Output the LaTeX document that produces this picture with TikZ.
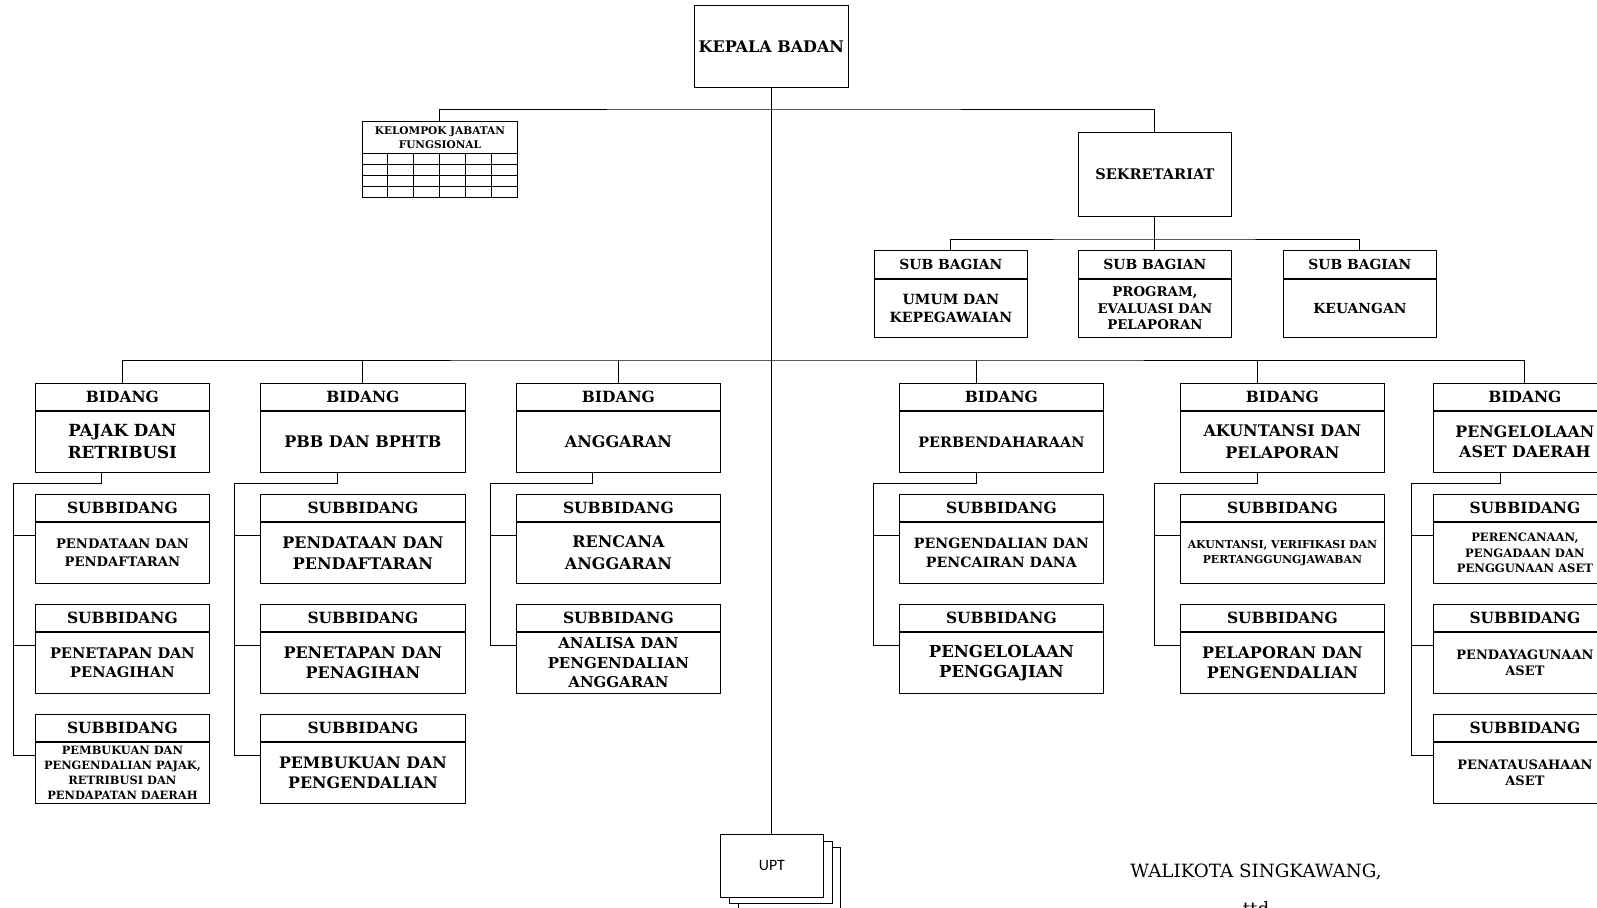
\documentclass[tikz,border=0pt]{standalone}
\usepackage{fontspec}
\setmainfont{DejaVu Serif}
\newfontfamily\uptfont{Carlito}
\usetikzlibrary{positioning}
\newcommand{\bfz}[2]{\fontsize{#1}{#2}\selectfont\bfseries}

\begin{document}
\begin{tikzpicture}[x=0.02cm, y=-0.02cm, line width=0.5pt,
  box/.style={draw, inner sep=1pt, align=center},
  hd/.style={box, anchor=north west, minimum width=#1, minimum height=0.54cm, font=\bfz{8.8}{11}},
  bd/.style={box, minimum width=#1, minimum height=1.22cm},
  sbh/.style={box, anchor=north west, minimum width=3.06cm, minimum height=0.56cm, font=\bfz{7.9}{10}},
  sbb/.style={box, minimum width=3.06cm, minimum height=1.16cm, font=\bfz{8}{10.5}}]
\useasboundingbox (0,0) rectangle (1597,908);
\clip (0,0) rectangle (1597,908);

% pimpinan
\node[box, anchor=north west, minimum width=3.08cm, minimum height=1.64cm, font=\bfz{9.1}{11}] (kb) at (694,5) {KEPALA BADAN};
\node[box, anchor=north west, minimum width=3.1cm, minimum height=0.64cm, font=\bfz{6}{7.8}] (kjf) at (362,121) {KELOMPOK JABATAN\\FUNGSIONAL};
\draw[shift={(kjf.south west)}, xstep=0.5166cm, ystep=0.22cm] (0,0) grid (3.1cm,-0.88cm) (0,0) rectangle (3.1cm,-0.88cm);
\node[box, anchor=north west, minimum width=3.06cm, minimum height=1.68cm, font=\bfz{8.3}{10}] (sek) at (1078,132) {SEKRETARIAT};
\coordinate (bus1) at (771,109);
\draw (kjf.north) |- (bus1) -| (sek.north);

% sekretariat
\node[sbh] (sb1h) at (874,250) {SUB BAGIAN};
\node[sbb, below=0pt of sb1h] (sb1b) {UMUM DAN\\KEPEGAWAIAN};
\node[sbh] (sb2h) at (1078,250) {SUB BAGIAN};
\node[sbb, below=0pt of sb2h, font=\bfz{7.6}{9.5}] (sb2b) {PROGRAM,\\EVALUASI DAN\\PELAPORAN};
\node[sbh] (sb3h) at (1283,250) {SUB BAGIAN};
\node[sbb, below=0pt of sb3h, font=\bfz{7.9}{10}] (sb3b) {KEUANGAN};
\coordinate (bus3) at (1154,239);
\draw (sek.south) -- (sb2h.north);
\draw (sb1h.north) |- (bus3) -| (sb3h.north);

% bidang
\node[hd=3.48cm] (b1h) at (35,383) {BIDANG};
\node[bd=3.48cm, below=0pt of b1h, font=\bfz{9.5}{12.6}] (b1b) {PAJAK DAN\\RETRIBUSI};
\node[hd=4.1cm] (b2h) at (260,383) {BIDANG};
\node[bd=4.1cm, below=0pt of b2h, font=\bfz{9.1}{12}] (b2b) {PBB DAN BPHTB};
\node[hd=4.08cm] (b3h) at (516,383) {BIDANG};
\node[bd=4.08cm, below=0pt of b3h, font=\bfz{9.1}{12}] (b3b) {ANGGARAN};
\node[hd=4.08cm] (b4h) at (899,383) {BIDANG};
\node[bd=4.08cm, below=0pt of b4h, font=\bfz{8.2}{10}] (b4b) {PERBENDAHARAAN};
\node[hd=4.08cm] (b5h) at (1180,383) {BIDANG};
\node[bd=4.08cm, below=0pt of b5h, font=\bfz{9.1}{12.3}] (b5b) {AKUNTANSI DAN\\PELAPORAN};
\node[hd=3.66cm] (b6h) at (1433,383) {BIDANG};
\node[bd=3.66cm, below=0pt of b6h, font=\bfz{9}{11.8}] (b6b) {PENGELOLAAN\\ASET DAERAH};
\coordinate (bus2) at (771,360);
\coordinate (d4) at ([xshift=-0.5cm]b4h.north);
\coordinate (d5) at ([xshift=-0.5cm]b5h.north);
\draw (b1h.north) |- (bus2) -| (b6h.north);
\draw (b2h.north) -- (b2h.north |- bus2);
\draw (b3h.north) -- (b3h.north |- bus2);
\draw (d4) -- (d4 |- bus2);
\draw (d5) -- (d5 |- bus2);

% subbidang pajak dan retribusi
\node[hd=3.48cm] (s11h) at (35,494) {SUBBIDANG};
\node[bd=3.48cm, below=0pt of s11h, font=\bfz{7.5}{10.5}] (s11b) {PENDATAAN DAN\\PENDAFTARAN};
\node[hd=3.48cm] (s12h) at (35,604) {SUBBIDANG};
\node[bd=3.48cm, below=0pt of s12h, font=\bfz{8.3}{11.2}] (s12b) {PENETAPAN DAN\\PENAGIHAN};
\node[hd=3.48cm] (s13h) at (35,714) {SUBBIDANG};
\node[bd=3.48cm, below=0pt of s13h, font=\bfz{6.5}{8.4}] (s13b) {PEMBUKUAN DAN\\PENGENDALIAN PAJAK,\\RETRIBUSI DAN\\PENDAPATAN DAERAH};
\coordinate (u1) at ([xshift=-0.42cm]b1b.south);
\coordinate (k1) at (13,483);
\coordinate (t11) at ([yshift=-0.28cm]s11b.north west);
\coordinate (t12) at ([yshift=-0.28cm]s12b.north west);
\coordinate (t13) at ([yshift=-0.28cm]s13b.north west);
\draw (u1) |- (k1) |- (t13);
\draw (k1 |- t11) -- (t11);
\draw (k1 |- t12) -- (t12);

% subbidang pbb dan bphtb
\node[hd=4.1cm] (s21h) at (260,494) {SUBBIDANG};
\node[bd=4.1cm, below=0pt of s21h, font=\bfz{9.1}{12.1}] (s21b) {PENDATAAN DAN\\PENDAFTARAN};
\node[hd=4.1cm] (s22h) at (260,604) {SUBBIDANG};
\node[bd=4.1cm, below=0pt of s22h, font=\bfz{9.1}{11.6}] (s22b) {PENETAPAN DAN\\PENAGIHAN};
\node[hd=4.1cm] (s23h) at (260,714) {SUBBIDANG};
\node[bd=4.1cm, below=0pt of s23h, font=\bfz{9}{11.9}] (s23b) {PEMBUKUAN DAN\\PENGENDALIAN};
\coordinate (u2) at ([xshift=-0.51cm]b2b.south);
\coordinate (k2) at (234,483);
\coordinate (t21) at ([yshift=-0.28cm]s21b.north west);
\coordinate (t22) at ([yshift=-0.28cm]s22b.north west);
\coordinate (t23) at ([yshift=-0.28cm]s23b.north west);
\draw (u2) |- (k2) |- (t23);
\draw (k2 |- t21) -- (t21);
\draw (k2 |- t22) -- (t22);

% subbidang anggaran
\node[hd=4.08cm] (s31h) at (516,494) {SUBBIDANG};
\node[bd=4.08cm, below=0pt of s31h, font=\bfz{9.1}{12.3}] (s31b) {RENCANA\\ANGGARAN};
\node[hd=4.08cm] (s32h) at (516,604) {SUBBIDANG};
\node[bd=4.08cm, below=0pt of s32h, font=\bfz{8.5}{11.2}] (s32b) {ANALISA DAN\\PENGENDALIAN\\ANGGARAN};
\coordinate (u3) at ([xshift=-0.52cm]b3b.south);
\coordinate (k3) at (490,483);
\coordinate (t31) at ([yshift=-0.28cm]s31b.north west);
\coordinate (t32) at ([yshift=-0.28cm]s32b.north west);
\draw (u3) |- (k3) |- (t32);
\draw (k3 |- t31) -- (t31);

% subbidang perbendaharaan
\node[hd=4.08cm] (s41h) at (899,494) {SUBBIDANG};
\node[bd=4.08cm, below=0pt of s41h, font=\bfz{8.05}{10.8}] (s41b) {PENGENDALIAN DAN\\PENCAIRAN DANA};
\node[hd=4.08cm] (s42h) at (899,604) {SUBBIDANG};
\node[bd=4.08cm, below=0pt of s42h, font=\bfz{9.4}{11.6}] (s42b) {PENGELOLAAN\\PENGGAJIAN};
\coordinate (u4) at ([xshift=-0.5cm]b4b.south);
\coordinate (k4) at (873,483);
\coordinate (t41) at ([yshift=-0.28cm]s41b.north west);
\coordinate (t42) at ([yshift=-0.28cm]s42b.north west);
\draw (u4) |- (k4) |- (t42);
\draw (k4 |- t41) -- (t41);

% subbidang akuntansi dan pelaporan
\node[hd=4.08cm] (s51h) at (1180,494) {SUBBIDANG};
\node[bd=4.08cm, below=0pt of s51h, font=\bfz{6.2}{8.7}] (s51b) {AKUNTANSI, VERIFIKASI DAN\\PERTANGGUNGJAWABAN};
\node[hd=4.08cm] (s52h) at (1180,604) {SUBBIDANG};
\node[bd=4.08cm, below=0pt of s52h, font=\bfz{9.1}{11.6}] (s52b) {PELAPORAN DAN\\PENGENDALIAN};
\coordinate (u5) at ([xshift=-0.5cm]b5b.south);
\coordinate (k5) at (1154,483);
\coordinate (t51) at ([yshift=-0.28cm]s51b.north west);
\coordinate (t52) at ([yshift=-0.28cm]s52b.north west);
\draw (u5) |- (k5) |- (t52);
\draw (k5 |- t51) -- (t51);

% subbidang pengelolaan aset daerah
\node[hd=3.66cm] (s61h) at (1433,494) {SUBBIDANG};
\node[bd=3.66cm, below=0pt of s61h, font=\bfz{6.6}{9}] (s61b) {PERENCANAAN,\\PENGADAAN DAN\\PENGGUNAAN ASET};
\node[hd=3.66cm] (s62h) at (1433,604) {SUBBIDANG};
\node[bd=3.66cm, below=0pt of s62h, font=\bfz{7.4}{9.3}] (s62b) {PENDAYAGUNAAN\\ASET};
\node[hd=3.66cm] (s63h) at (1433,714) {SUBBIDANG};
\node[bd=3.66cm, below=0pt of s63h, font=\bfz{7.4}{9.3}] (s63b) {PENATAUSAHAAN\\ASET};
\coordinate (u6) at ([xshift=-0.48cm]b6b.south);
\coordinate (k6) at (1411,483);
\coordinate (t61) at ([yshift=-0.28cm]s61b.north west);
\coordinate (t62) at ([yshift=-0.28cm]s62b.north west);
\coordinate (t63) at ([yshift=-0.28cm]s63b.north west);
\draw (u6) |- (k6) |- (t63);
\draw (k6 |- t61) -- (t61);
\draw (k6 |- t62) -- (t62);

% upt
\node[box, anchor=north west, fill=white, minimum width=2.04cm, minimum height=1.26cm] (upt3) at (738,847) {};
\node[box, anchor=north west, fill=white, minimum width=2.06cm, minimum height=1.24cm] (upt2) at (729,841) {};
\node[box, anchor=north west, fill=white, minimum width=2.06cm, minimum height=1.26cm, font=\uptfont\fontsize{9}{11}\selectfont] (upt) at (720,834) {UPT};
\draw (kb.south) -- (kb.south |- upt.north);

% pengesahan
\node[anchor=base, font=\fontsize{10.4}{12}\selectfont] (wk) at (1256,877) {WALIKOTA SINGKAWANG,};
\node[anchor=base, font=\fontsize{10.4}{12}\selectfont] (ttd) at (1256,915) {ttd};
\end{tikzpicture}
\end{document}
